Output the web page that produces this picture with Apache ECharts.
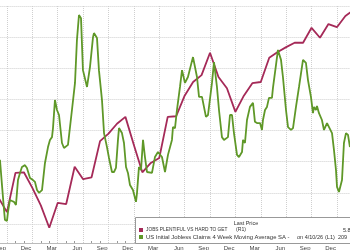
<!DOCTYPE html>
<html><head><meta charset="utf-8">
<script src="https://cdn.jsdelivr.net/npm/echarts@6/dist/echarts.min.js"></script>
<style>html,body{margin:0;padding:0;background:#fff}#c{width:350px;height:250px}</style>
</head><body><div id="c"></div>
<script>
// x unit: months since Sep 1, 2022 (0 = Sep 2022)
const monthNames = ['Jan','Feb','Mar','Apr','May','Jun','Jul','Aug','Sep','Oct','Nov','Dec'];
const firstMonthIndex = 8; // Sep

// JOBS PLENTIFUL VS HARD TO GET (R1, inverted) - monthly
const redMonths = [-1,0,1,2,3,4,5,6,7,8,9,10,11,12,13,14,15,16,17,18,19,20,21,22,23,24,25,26,27,28,29,30,31,32,33,34,35,36,37,38,39,40,41];
const redValues = [35.8,38.1,31.8,31.7,34.2,37.0,40.6,36.6,36.8,30.8,32.8,32.5,26.7,25.5,23.9,22.8,27.3,31.7,30.2,29.4,22.8,22.7,19.4,17.2,16.1,12.5,16.4,18.2,22.0,19.4,17.4,17.2,13.3,12.4,11.6,10.9,10.9,8.5,10.1,7.9,8.4,6.6,5.6];

// US Initial Jobless Claims 4 Week Moving Average SA (L1, thousands)
const greenMonths = [-0.83,-0.59,-0.35,-0.24,0,0.12,0.35,0.59,0.83,1.06,1.30,1.54,1.77,2.13,2.36,2.72,3.07,3.31,3.55,3.78,4.14,4.49,4.85,5.08,5.32,5.44,5.67,5.91,6.15,6.50,6.74,7.21,7.68,8.04,8.27,8.51,8.75,8.98,9.46,9.81,10.17,10.28,10.64,10.87,11.23,11.47,11.82,12.06,12.41,12.65,12.88,13.12,13.24,13.59,13.83,14.07,14.30,14.54,14.89,15.25,15.37,15.60,15.84,16.08,16.31,16.55,16.67,17.14,17.49,17.85,18.32,18.68,19.03,19.50,19.62,19.86,20.09,20.45,20.69,21.04,21.39,21.75,21.99,22.46,22.70,23.05,23.52,23.76,24.23,24.47,24.82,25.06,25.41,25.65,26.12,26.36,26.60,26.83,27.19,27.42,27.78,27.90,28.13,28.37,28.72,29.08,29.31,29.55,29.91,30.14,30.26,30.50,30.73,30.97,31.32,31.44,31.80,32.03,32.39,32.62,32.98,33.22,33.57,33.81,34.16,34.52,34.99,35.34,35.58,35.93,36.17,36.29,36.52,36.64,36.88,37.23,37.47,37.83,38.06,38.42,38.65,38.89,39.01,39.24,39.60,39.83,40.07,40.31,40.54];
const greenValues = [210.6,202.5,194.5,191.3,191.0,193.9,197.7,197.4,197.1,196.1,204.1,206.4,208.3,208.9,208.0,204.8,204.1,203.5,200.9,200.0,200.9,209.6,214.7,217.0,217.9,220.8,229.8,226.6,225.0,216.0,214.4,215.4,226.6,235.3,249.1,257.1,256.1,239.4,234.0,240.4,250.0,251.3,249.7,239.4,229.8,219.2,214.7,211.2,206.7,206.7,208.0,217.0,220.8,219.2,216.0,208.3,206.4,202.5,200.9,197.1,200.0,208.3,207.3,217.0,211.5,206.7,206.4,206.4,211.5,213.1,211.5,206.7,212.2,217.0,221.1,220.8,226.6,234.0,239.4,235.3,237.2,241.1,243.6,237.2,230.8,230.8,224.4,225.0,235.3,242.0,234.0,226.6,217.9,217.0,217.9,225.0,225.0,219.2,212.2,211.5,213.1,217.0,216.0,223.4,227.6,228.9,222.8,222.4,222.4,220.2,223.4,226.6,227.6,230.5,230.5,233.7,241.1,245.9,242.7,237.2,226.6,221.1,220.2,220.8,227.6,234.0,242.7,241.7,236.2,230.8,225.6,227.6,226.6,227.9,225.6,223.4,220.2,222.4,222.4,219.2,213.8,207.3,201.9,200.3,204.1,216.0,219.2,218.6,214.7];

const redName = 'JOBS PLENTIFUL VS HARD TO GET';
const greenName = 'US Initial Jobless Claims 4 Week Moving Average SA -';
const redColor = '#a52a58';
const greenColor = '#5f9828';
const redLast = '5.80';
const greenLast = '209';
const greenDate = 'on 4/10/26';

const pair = (xs, ys) => xs.map((x, i) => [x, ys[i]]);
const grid = '#cfcfcf';
const font = 'Liberation Sans, Arial, sans-serif';

const chart = echarts.init(document.getElementById('c'), null, {renderer: 'canvas'});
chart.setOption({
  animation: false,
  backgroundColor: '#fff',
  grid: {left: -18.4, right: -12.3, top: 6, bottom: 26, containLabel: false, outerBoundsMode: 'none'},
  xAxis: {
    type: 'value', min: -3, max: 42, interval: 3, offset: 19,
    axisLine: {show: true, lineStyle: {color: '#bbb', width: 1}},
    axisTick: {show: true, inside: true, length: 19, lineStyle: {color: grid, type: 'dotted'}},
    minorTick: {show: true, splitNumber: 3, length: 2, lineStyle: {color: '#999'}},
    splitLine: {show: true, lineStyle: {color: grid, type: 'dotted', width: 1}},
    axisLabel: {
      show: true, margin: 2, fontSize: 6, color: '#444', fontFamily: font,
      align: 'right', padding: [0, 1, 0, 0], hideOverlap: false,
      formatter: v => monthNames[(Math.round(v) + firstMonthIndex + 1200) % 12]
    }
  },
  yAxis: [
    {type: 'value', min: 190, max: 260, interval: 10, position: 'left',
     axisLabel: {show: false}, axisLine: {show: false}, axisTick: {show: false},
     splitLine: {show: true, lineStyle: {color: grid, type: 'dotted', width: 1}}},
    {type: 'value', min: 5, max: 40, interval: 5, inverse: true, position: 'right',
     axisLabel: {show: false}, axisLine: {show: false}, axisTick: {show: false},
     splitLine: {show: false}}
  ],
  series: [
    {name: redName, type: 'line', yAxisIndex: 1, data: pair(redMonths, redValues),
     showSymbol: false, clip: false, lineStyle: {color: redColor, width: 1.8}, z: 3},
    {name: greenName, type: 'line', yAxisIndex: 0, data: pair(greenMonths, greenValues),
     showSymbol: false, clip: false, lineStyle: {color: greenColor, width: 1.8}, z: 4}
  ],
  graphic: [
    {type: 'rect', z: 100, shape: {x: 135.5, y: 217.5, width: 230, height: 26},
     style: {fill: '#fff', stroke: '#999', lineWidth: 1}},
    {type: 'text', z: 101, style: {x: 246, y: 223, text: 'Last Price', fill: '#333', font: '5.5px ' + font, align: 'center', verticalAlign: 'middle'}},
    {type: 'rect', z: 101, shape: {x: 139, y: 228, width: 4, height: 4}, style: {fill: redColor}},
    {type: 'rect', z: 101, shape: {x: 139, y: 235, width: 4, height: 4}, style: {fill: greenColor}},
    {type: 'text', z: 101, style: {x: 146, y: 230, text: redName, fill: '#333', font: '4.8px ' + font, verticalAlign: 'middle'}},
    {type: 'text', z: 101, style: {x: 236, y: 230, text: '(R1)', fill: '#333', font: '5.2px ' + font, verticalAlign: 'middle'}},
    {type: 'text', z: 101, style: {x: 343, y: 230, text: redLast, fill: '#333', font: '5.5px ' + font, verticalAlign: 'middle'}},
    {type: 'text', z: 101, style: {x: 146, y: 237, text: greenName, fill: '#333', font: '5.9px ' + font, verticalAlign: 'middle'}},
    {type: 'text', z: 101, style: {x: 297, y: 237, text: greenDate, fill: '#333', font: '5.5px ' + font, verticalAlign: 'middle'}},
    {type: 'text', z: 101, style: {x: 325, y: 237, text: '(L1)', fill: '#333', font: '5.5px ' + font, verticalAlign: 'middle'}},
    {type: 'text', z: 101, style: {x: 338, y: 237, text: greenLast, fill: '#333', font: '5.5px ' + font, verticalAlign: 'middle'}}
  ]
});
</script></body></html>
